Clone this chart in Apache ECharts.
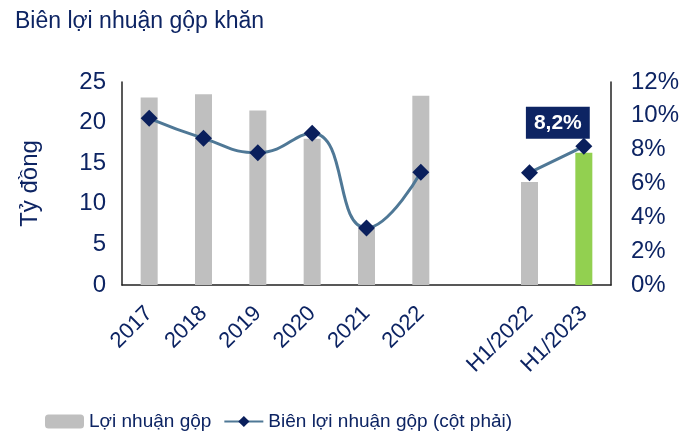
<!DOCTYPE html>
<html>
  <head>
  <meta charset="utf-8">
    <script type="text/javascript" src="https://cdn.jsdelivr.net/npm/echarts@6/dist/echarts.min.js"></script>
  </head>
 <body style="margin:0">
     <div id="main" style="width:697px;height:437px;"></div>
     <script type="text/javascript">
    // du lieu
    var categories = ['2017', '2018', '2019', '2020', '2021', '2022', '', 'H1/2022', 'H1/2023'];
    var loiNhuanGop = [23.1, 23.5, 21.5, 18.0, 6.9, 23.3, null, 12.7, 16.3];
    var bienLoiNhuan = [9.85, 8.67, 7.82, 8.97, 3.37, 6.66, null, 6.64, 8.2];
    var labelIndex = 8;

    var navy = '#0d2463';
    var font = "'Liberation Sans', Arial, sans-serif";
    var myChart = echarts.init(document.getElementById('main'));

    var barData = loiNhuanGop.map(function (v, i) {
        if (i == categories.length - 1) {
            return { value: v, itemStyle: { color: '#92d050' } };
        }
        return v;
    });
    var lineData = bienLoiNhuan.map(function (v, i) {
        if (i == labelIndex) {
            return {
                value: v,
                label: {
                    show: true,
                    position: 'top',
                    offset: [-26, 6],
                    formatter: function (p) { return p.value.toFixed(1).replace('.', ',') + '%'; },
                    backgroundColor: navy,
                    color: '#fff',
                    fontWeight: 'bold',
                    fontSize: 21,
                    fontFamily: font,
                    padding: [6, 8, 5, 8]
                }
            };
        }
        return v;
    });

    var option = {
        animation: false,
        title: {
            text: 'Biên lợi nhuận gộp khăn',
            left: 10, top: 5,
            textStyle: { color: navy, fontSize: 23, fontWeight: 'normal', fontFamily: font }
        },
        legend: {
            left: 40, top: 407,
            itemWidth: 39, itemHeight: 14, itemGap: 12,
            textStyle: { color: navy, fontSize: 19, fontFamily: font },
            data: ['Lợi nhuận gộp', 'Biên lợi nhuận gộp (cột phải)']
        },
        grid: { left: 122, right: 86, top: 82, bottom: 152 },
        xAxis: {
            type: 'category',
            data: categories,
            axisLine: { lineStyle: { color: '#222', width: 1.5 } },
            axisTick: { show: false },
            axisLabel: { rotate: 45, interval: 0, margin: 25, color: navy, fontSize: 22, fontFamily: font }
        },
        yAxis: [{
            type: 'value',
            min: 0, max: 25, interval: 5,
            name: 'Tỷ đồng',
            nameLocation: 'middle',
            nameGap: 80,
            nameTextStyle: { color: navy, fontSize: 24, fontFamily: font },
            axisLine: { show: true, lineStyle: { color: '#222', width: 1.5 } },
            axisTick: { show: false },
            splitLine: { show: false },
            axisLabel: { margin: 16, color: navy, fontSize: 24, fontFamily: font }
        }, {
            type: 'value',
            min: 0, max: 12, interval: 2,
            axisLine: { show: true, lineStyle: { color: '#222', width: 1.5 } },
            axisTick: { show: false },
            splitLine: { show: false },
            axisLabel: { margin: 20, color: navy, fontSize: 24, fontFamily: font, formatter: '{value}%' }
        }],
        series: [{
            name: 'Lợi nhuận gộp',
            type: 'bar',
            barWidth: 17,
            itemStyle: { color: '#bfbfbf' },
            data: barData
        }, {
            name: 'Biên lợi nhuận gộp (cột phải)',
            type: 'line',
            yAxisIndex: 1,
            smooth: true,
            connectNulls: false,
            symbol: 'diamond',
            symbolSize: 17,
            lineStyle: { color: '#4f7896', width: 3 },
            itemStyle: { color: '#0a1f5c' },
            z: 5,
            data: lineData
        }]
    };
    myChart.setOption(option);
    </script>
  </body>
</html>
